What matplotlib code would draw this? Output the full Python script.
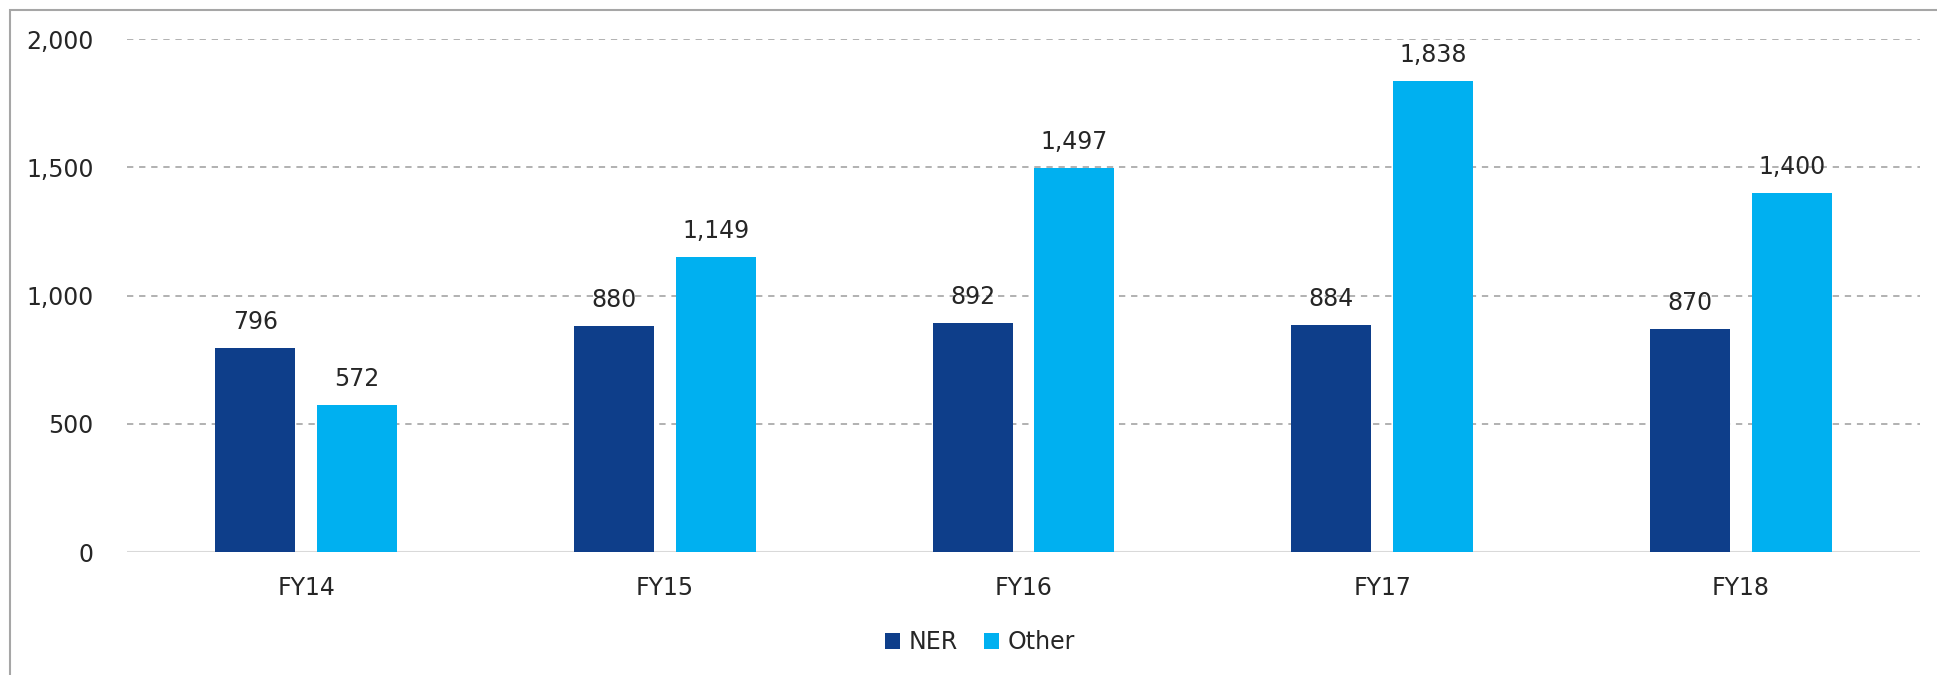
import numpy as np
import matplotlib.pyplot as plt
from matplotlib.patches import Rectangle

years = ["FY14", "FY15", "FY16", "FY17", "FY18"]
ner = [796, 880, 892, 884, 870]
other = [572, 1149, 1497, 1838, 1400]

ner_color = "#0E3E8A"
other_color = "#00B0F0"
text_color = "#262626"

plt.rcParams['font.family'] = ['DejaVu Sans']
fs = 17

fig = plt.figure(figsize=(19.37, 6.75), dpi=100)
ax = fig.add_axes([127 / 1937, 1 - 552 / 675, (1920 - 127) / 1937, (552 - 39) / 675])

x = np.arange(len(years))
w = 0.223
off = 0.142
b1 = ax.bar(x - off, ner, w, color=ner_color, label="NER", zorder=3)
b2 = ax.bar(x + off, other, w, color=other_color, label="Other", zorder=3)

# value labels above bars
for bars in (b1, b2):
    for rect in bars:
        h = rect.get_height()
        ax.annotate(f"{h:,.0f}", (rect.get_x() + rect.get_width() / 2, h),
                    xytext=(0, 10), textcoords="offset points",
                    ha="center", va="bottom", fontsize=fs, color=text_color, zorder=4)

ax.set_xlim(-0.5, len(years) - 0.5)
ax.set_ylim(0, 2000)
ax.set_yticks([0, 500, 1000, 1500, 2000])
ax.set_yticklabels([f"{v:,}" for v in [0, 500, 1000, 1500, 2000]])
ax.set_xticks(x)
ax.set_xticklabels(years)

for v in [500, 1000, 1500, 2000]:
    ax.axhline(v, color="#ABABAB", lw=1.3, ls=(0, (3.5, 3.2)), zorder=1)
ax.axhline(0, color="#D9D9D9", lw=1.5, zorder=2)

for s in ax.spines.values():
    s.set_visible(False)
ax.tick_params(axis="both", length=0, labelsize=fs, colors=text_color)
ax.tick_params(axis="y", pad=24)
ax.tick_params(axis="x", pad=17)

fig.legend(handles=[b1, b2], loc="center", bbox_to_anchor=(980 / 1937, 1 - 642 / 675),
           ncol=2, frameon=False, fontsize=fs, handlelength=0.65, handleheight=0.65,
           handletextpad=0.35, columnspacing=1.1, labelcolor=text_color)

# outer frame
fig.patches.append(Rectangle((10 / 1937, -0.1), 1.2, 1 - 10 / 675 + 0.1,
                             transform=fig.transFigure, fill=False,
                             edgecolor="#A6A6A6", lw=1.5))

fig.savefig("out.png", dpi=100)
